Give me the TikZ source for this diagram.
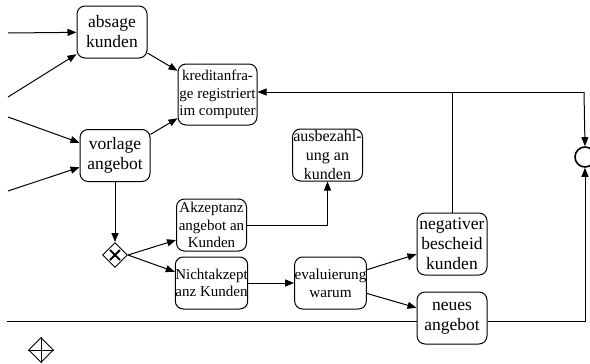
\documentclass[tikz,border=0pt]{standalone}
\usepackage{fontspec}
\setmainfont{Liberation Serif}
\usetikzlibrary{arrows.meta,calc,shapes.geometric}

\begin{document}
\begin{tikzpicture}[x=1pt, y=-1pt,
      act/.style={draw, rounded corners=8pt, fill=white, minimum width=70pt, minimum height=52pt, align=center, inner sep=0pt, line width=1pt, font=\fontsize{17.5}{20}\selectfont},
      smalltxt/.style={font=\fontsize{15}{17.5}\selectfont},
      gate/.style={draw, diamond, aspect=1, minimum width=25pt, minimum height=25pt, inner sep=0pt, line width=0.9pt, fill=white},
      flow/.style={line width=1pt, -{Triangle[length=9pt, width=7pt]}}
    ]
      \useasboundingbox (0,0) rectangle (590,364);

      % incoming flows (free ends at the left border)
      \coordinate (in1) at (8,33);
      \coordinate (in2) at (8,97);
      \coordinate (in3) at (8,117);
      \coordinate (in4) at (8,191);

      % Activities
      \node[act] (absage) at (112,32) {absage\\kunden};
      \node[act, smalltxt, minimum width=79pt, minimum height=61pt] (kredit) at (217.5,94.5) {kreditanfra-\\ge registriert\\im computer};
      \node[act] (vorlage) at (115,155.5) {vorlage\\angebot};
      \node[act, smalltxt] (akzept) at (211.5,225) {Akzeptanz\\angebot an\\Kunden};
      \node[act, smalltxt] (nicht) at (211.5,283) {Nichtakzept\\anz Kunden};
      \node[act, font=\fontsize{16}{19}\selectfont] (ausbez) at (327.5,155) {ausbezahl-\\ung an\\kunden};
      \node[act, font=\fontsize{15.2}{18}\selectfont] (evalu) at (330.5,283) {evaluierung\\warum};
      \node[act, minimum height=62pt] (negativ) at (452,244) {negativer\\bescheid\\kunden};
      \node[act] (neues) at (452,318) {neues\\angebot};

      % Gateways
      \node[gate] (gw1) at (115,255) {};
      \draw[line width=1.8pt] ($(gw1)+(-5,-5)$) -- ($(gw1)+(5,5)$);
      \draw[line width=1.8pt] ($(gw1)+(-5,5)$) -- ($(gw1)+(5,-5)$);
      \node[gate] (gw2) at (41,350) {};
      \draw[line width=0.9pt] (gw2.north) -- (gw2.south);
      \draw[line width=0.9pt] (gw2.west) -- (gw2.east);

      % Intermediate event on the right border
      \node[draw, circle, minimum size=20pt, inner sep=0pt, line width=1.6pt] (ev) at (585,157) {};
      \coordinate (top) at (584,92);
      \coordinate (bl) at (7,321);

      % Sequence flows
      \draw[flow] (in1) -- (absage);
      \draw[flow] (in2) -- (absage);
      \draw[flow] (in3) -- (vorlage);
      \draw[flow] (in4) -- (vorlage);
      \draw[flow] (absage) -- (kredit);
      \draw[flow] (vorlage) -- (kredit);
      \draw[flow] (vorlage) -- (gw1);
      \draw[flow] (gw1.east) -- (akzept.203);
      \draw[flow] (gw1.east) -- (nicht.163);
      \draw[flow] (akzept.east) -| (ausbez.south);
      \draw[flow] (nicht.east) -- (evalu.west);
      \draw[flow] (evalu.20) -- (negativ.196);
      \draw[flow] (evalu.-16) -- (neues.164);
      \draw[line width=1pt] (negativ.north) -- (negativ.north |- top);
      \draw[flow] (top) -- (top -| kredit.east);
      \draw[flow] (top) -- (ev.north);
      \draw[line width=1pt] (bl) -- (bl -| neues.west);
      \draw[flow] (neues.east |- bl) -| (ev.south);
    \end{tikzpicture}
\end{document}
